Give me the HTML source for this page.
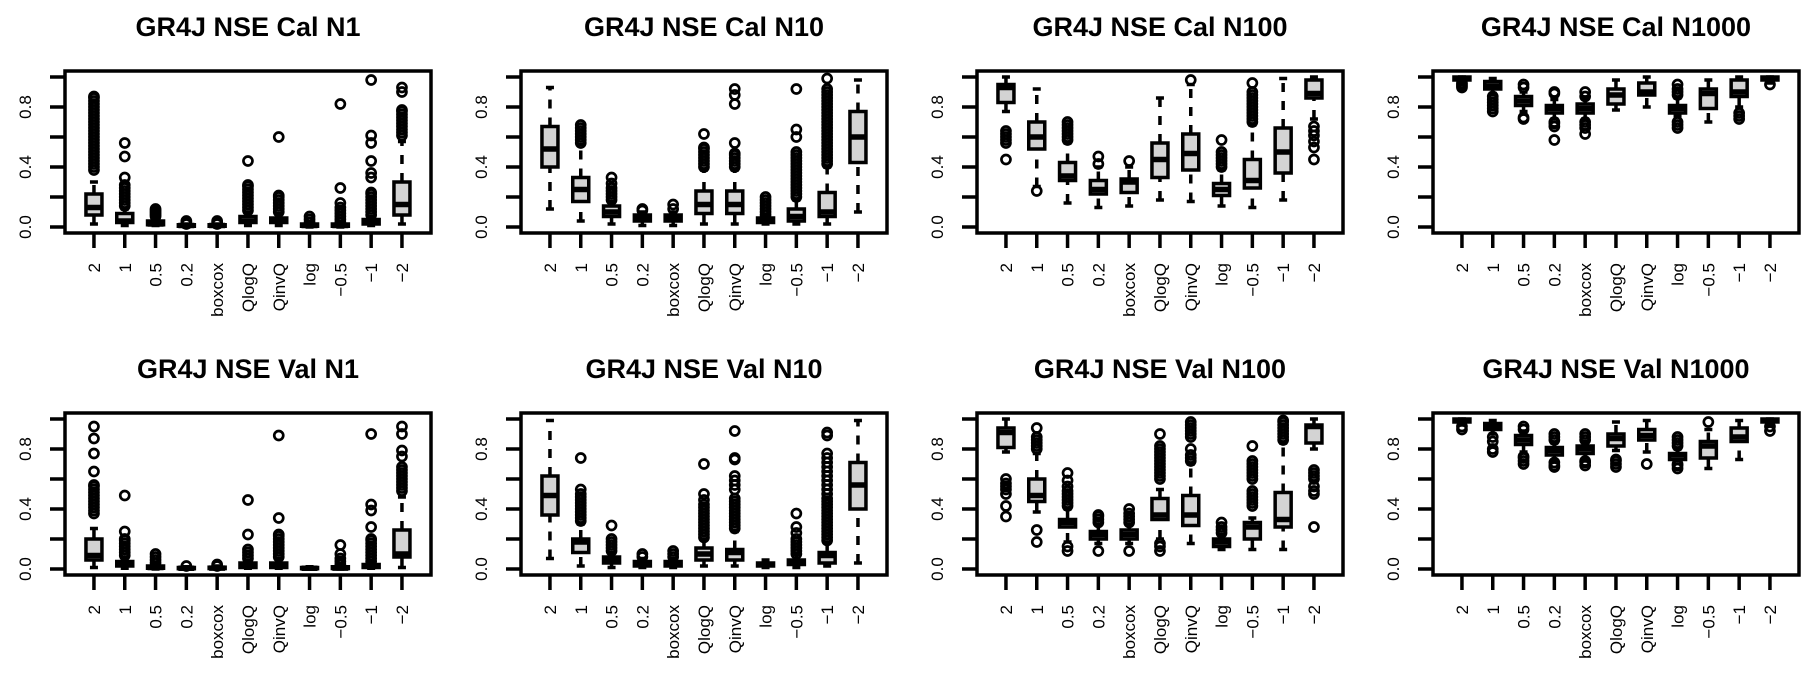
<!DOCTYPE html>
<html><head><meta charset="utf-8"><style>
html,body{margin:0;padding:0;background:#fff}
svg{display:block}
text{font-family:"Liberation Sans",Arial,sans-serif;fill:#000}
</style></head><body>
<svg id="chart" width="1815" height="679" viewBox="0 0 1815 679" xmlns="http://www.w3.org/2000/svg"></svg>
<script>
const categories = ["2","1","0.5","0.2","boxcox","QlogQ","QinvQ","log","\u22120.5","\u22121","\u22122"];
const yTicks = [0,0.2,0.4,0.6,0.8,1.0];
const yTickLabels = ["0.0","","0.4","","0.8",""];
const titles = ["GR4J NSE Cal N1","GR4J NSE Cal N10","GR4J NSE Cal N100","GR4J NSE Cal N1000","GR4J NSE Val N1","GR4J NSE Val N10","GR4J NSE Val N100","GR4J NSE Val N1000"];
// each box: [lowerWhisker, q1, median, q3, upperWhisker]
const statsCalN1 = [[.02,.08,.13,.22,.30],[.01,.03,.04,.09,.12],[.01,.015,.02,.04,.06],[0,.005,.01,.015,.02],[0,.005,.01,.015,.02],[.01,.03,.04,.07,.10],[.01,.03,.04,.06,.09],[0,.005,.01,.02,.03],[0,.005,.01,.02,.03],[.01,.02,.03,.05,.07],[.02,.08,.15,.30,.57]];
const outCalN1 = [[.38,.40,.42,.44,.46,.48,.50,.52,.54,.56,.58,.60,.62,.64,.66,.68,.70,.72,.74,.76,.78,.80,.82,.84,.86,.87],[.14,.16,.18,.20,.22,.24,.26,.28,.33,.47,.56],[.07,.08,.09,.10,.11,.12],[.02,.03,.04],[.02,.03,.04],[.11,.13,.15,.17,.19,.21,.23,.25,.27,.28,.44],[.10,.12,.14,.16,.18,.20,.21,.60],[.03,.05,.07],[.03,.05,.07,.09,.11,.13,.16,.26,.82],[.08,.10,.12,.14,.16,.18,.20,.22,.23,.33,.36,.44,.56,.61,.98],[.61,.63,.65,.67,.69,.71,.73,.75,.77,.78,.90,.93]];
const statsCalN10 = [[.12,.40,.52,.67,.93],[.04,.17,.25,.33,.55],[.02,.07,.10,.14,.17],[.01,.04,.06,.08,.10],[.01,.04,.06,.08,.10],[.02,.09,.15,.24,.38],[.02,.09,.15,.24,.38],[.02,.03,.05,.06,.08],[.02,.04,.07,.12,.18],[.02,.07,.10,.23,.40],[.10,.43,.60,.77,.98]];
const outCalN10 = [[],[.56,.58,.60,.62,.64,.66,.68],[.18,.20,.22,.24,.26,.29,.33],[.11,.12],[.12,.15],[.40,.42,.44,.46,.48,.50,.52,.53,.62],[.40,.42,.44,.46,.48,.49,.56,.82,.88,.92],[.08,.10,.12,.14,.16,.18,.20],[.20,.22,.24,.26,.28,.30,.32,.34,.36,.38,.40,.42,.44,.46,.48,.50,.60,.65,.92],[.42,.44,.46,.48,.50,.52,.54,.56,.58,.60,.62,.64,.66,.68,.70,.72,.74,.76,.78,.80,.82,.84,.86,.88,.90,.92,.99],[]];
const statsCalN100 = [[.77,.83,.93,.95,1.0],[.27,.52,.60,.70,.92],[.16,.31,.34,.43,.56],[.13,.22,.25,.31,.40],[.14,.23,.30,.32,.40],[.18,.33,.45,.56,.86],[.17,.38,.49,.62,.95],[.14,.21,.25,.29,.38],[.13,.26,.31,.45,.68],[.18,.36,.50,.66,.99],[.72,.86,.89,.98,1.0]];
const outCalN100 = [[.45,.56,.58,.60,.62,.64],[.24],[.58,.60,.62,.64,.66,.68,.70],[.42,.47],[.44],[],[.98],[.40,.42,.44,.46,.48,.50,.58],[.70,.72,.74,.76,.78,.80,.82,.84,.86,.88,.90,.96],[],[.45,.53,.57,.61,.64,.67]];
const statsCalN1000 = [[.95,.98,.99,1.0,1.0],[.89,.92,.94,.97,.99],[.77,.81,.84,.87,.90],[.72,.76,.79,.81,.85],[.72,.76,.79,.82,.86],[.78,.82,.88,.92,.98],[.80,.88,.90,.96,1.0],[.74,.76,.79,.81,.86],[.70,.79,.89,.92,.98],[.80,.87,.90,.98,1.0],[.96,.98,.99,1.0,1.0]];
const outCalN1000 = [[.93,.94,.95,.96],[.77,.79,.81,.83,.85,.87],[.72,.73,.93,.95],[.58,.67,.69,.70,.89,.90],[.62,.66,.68,.70,.87,.90],[],[],[.66,.68,.70,.88,.90,.92,.95],[],[.72,.74,.76],[.95]];
const statsValN1 = [[.01,.06,.09,.20,.27],[.005,.02,.03,.05,.08],[0,.005,.01,.02,.04],[0,.002,.005,.01,.015],[0,.003,.006,.012,.02],[.005,.01,.02,.04,.06],[.005,.01,.02,.04,.07],[0,.002,.005,.01,.015],[0,.003,.006,.015,.03],[.005,.01,.02,.03,.05],[.01,.08,.10,.26,.48]];
const outValN1 = [[.37,.39,.41,.43,.45,.47,.49,.51,.53,.55,.56,.65,.77,.87,.95],[.09,.11,.13,.15,.17,.19,.20,.25,.49],[.04,.06,.08,.10],[.02],[.02,.03],[.07,.09,.11,.13,.23,.46],[.08,.10,.12,.14,.16,.18,.20,.22,.23,.34,.89],[],[.03,.05,.07,.10,.16],[.05,.07,.09,.11,.13,.15,.17,.19,.20,.28,.39,.43,.90],[.52,.54,.56,.58,.60,.62,.64,.66,.68,.75,.79,.90,.95]];
const statsValN10 = [[.07,.36,.49,.62,.99],[.02,.11,.18,.20,.30],[.01,.04,.06,.08,.11],[.01,.02,.03,.05,.07],[.01,.02,.03,.05,.07],[.02,.06,.10,.14,.20],[.02,.06,.11,.13,.25],[.01,.02,.03,.04,.06],[.01,.03,.04,.06,.10],[.02,.04,.09,.11,.18],[.04,.40,.56,.71,.99]];
const outValN10 = [[],[.32,.34,.36,.38,.40,.42,.44,.46,.48,.50,.53,.74],[.12,.14,.16,.18,.20,.29],[.08,.10],[.08,.10,.12],[.21,.23,.25,.27,.29,.31,.33,.35,.37,.39,.41,.43,.46,.50,.70],[.27,.29,.31,.33,.35,.37,.39,.41,.43,.45,.47,.53,.56,.59,.62,.73,.74,.92],[],[.10,.12,.14,.16,.18,.20,.24,.28,.37],[.19,.21,.23,.25,.27,.29,.31,.33,.35,.37,.39,.41,.43,.45,.47,.50,.53,.56,.59,.62,.65,.68,.71,.74,.77,.89,.91],[]];
const statsValN100 = [[.78,.81,.91,.94,1.0],[.38,.45,.49,.60,.77],[.18,.28,.31,.33,.40],[.17,.20,.23,.25,.30],[.17,.20,.23,.26,.30],[.20,.33,.36,.47,.53],[.17,.29,.36,.49,.70],[.13,.15,.18,.20,.23],[.13,.20,.28,.31,.34],[.13,.28,.33,.51,.84],[.80,.84,.95,.96,1.0]];
const outValN100 = [[.35,.42,.50,.53,.55,.57,.60],[.18,.26,.80,.82,.84,.86,.88,.94],[.12,.15,.42,.44,.46,.48,.50,.52,.55,.59,.64],[.12,.31,.33,.35,.36],[.12,.31,.33,.35,.37,.40],[.12,.15,.17,.60,.62,.64,.66,.68,.70,.72,.74,.76,.78,.80,.82,.90],[.72,.74,.76,.80,.88,.90,.92,.94,.96,.98],[.24,.26,.28,.31],[.42,.44,.46,.48,.50,.52,.60,.62,.64,.66,.68,.70,.72,.82],[.86,.88,.90,.92,.94,.96,.98,.99],[.28,.50,.52,.55,.60,.62,.64,.66]];
const statsValN1000 = [[.96,.98,.99,1.0,1.0],[.90,.93,.95,.97,.99],[.78,.83,.86,.89,.92],[.72,.76,.79,.81,.84],[.72,.77,.80,.82,.85],[.79,.82,.87,.90,.98],[.78,.86,.89,.93,.99],[.72,.73,.76,.77,.80],[.67,.74,.82,.85,.93],[.73,.85,.88,.94,.99],[.96,.98,.99,1.0,1.0]];
const outValN1000 = [[.93,.95],[.78,.80,.85,.88],[.70,.72,.74,.75,.93,.95],[.68,.69,.71,.86,.88,.90],[.69,.71,.72,.86,.88,.90],[.68,.70,.72,.73],[.70],[.67,.69,.70,.82,.84,.86,.88],[.98],[],[.92,.95]];

const panelStats = [statsCalN1,statsCalN10,statsCalN100,statsCalN1000,statsValN1,statsValN10,statsValN100,statsValN1000];
const panelOut = [outCalN1,outCalN10,outCalN100,outCalN1000,outValN1,outValN10,outValN100,outValN1000];

const svg = document.getElementById('chart');
const NS = 'http://www.w3.org/2000/svg';
function mk(tag, attrs, parent){const e=document.createElementNS(NS,tag);for(const k in attrs)e.setAttribute(k,attrs[k]);parent.appendChild(e);return e;}

const BOXW=366, BOXH=162, COLSTEP=456, ROWSTEP=342, LEFT0=65, TOP0=71;
for(let p=0;p<8;p++){
  const col=p%4,row=Math.floor(p/4);
  const L=LEFT0+col*COLSTEP, T=TOP0+row*ROWSTEP, B=T+BOXH;
  const yS=v=>B-6-v*150;
  const xS=i=>L+(i+1-0.06)*30.8;
  const g=mk('g',{},svg);
  
  
  const t=mk('text',{x:L+BOXW/2,y:T-35,'text-anchor':'middle','font-size':'27','font-weight':'bold'},g);
  t.textContent=titles[p];
  
  
  yTicks.forEach((v,k)=>{
    const tk=mk('line',{x1:L-15,x2:L,y1:yS(v),y2:yS(v),stroke:'#000','stroke-width':3.5},g);
    
    
    if(yTickLabels[k]){
      const tl=mk('text',{x:0,y:0,'text-anchor':'middle','font-size':'17',transform:`translate(${L-34},${yS(v)}) rotate(-90)`},g);
      tl.textContent=yTickLabels[k];
      
      
    }
  });
  categories.forEach((c,i)=>{
    const x=xS(i);
    const tk=mk('line',{x1:x,x2:x,y1:B,y2:B+15,stroke:'#000','stroke-width':3.5},g);
    
    
    const tl=mk('text',{x:0,y:0,'text-anchor':'end','font-size':'17',transform:`translate(${x+6},${B+30}) rotate(-90)`},g);
    tl.textContent=c;
    
    
  });
  panelStats[p].forEach((s,i)=>{
    const x=xS(i), hw=8;
    const bg=mk('g',{},g);
    
    
    mk('line',{x1:x,x2:x,y1:yS(s[0]),y2:yS(s[1]),stroke:'#000','stroke-width':3.5,'stroke-dasharray':'9,9'},bg);
    mk('line',{x1:x,x2:x,y1:yS(s[3]),y2:yS(s[4]),stroke:'#000','stroke-width':3.5,'stroke-dasharray':'9,9'},bg);
    mk('line',{x1:x-4,x2:x+4,y1:yS(s[0]),y2:yS(s[0]),stroke:'#000','stroke-width':3.5},bg);
    mk('line',{x1:x-4,x2:x+4,y1:yS(s[4]),y2:yS(s[4]),stroke:'#000','stroke-width':3.5},bg);
    mk('rect',{x:x-hw,y:yS(s[3]),width:2*hw,height:Math.max(0.5,yS(s[1])-yS(s[3])),fill:'#d3d3d3',stroke:'#000','stroke-width':3.5},bg);
    mk('line',{x1:x-hw,x2:x+hw,y1:yS(s[2]),y2:yS(s[2]),stroke:'#000','stroke-width':5.5},bg);
    panelOut[p][i].forEach(v=>{
      const c=mk('circle',{cx:x,cy:yS(v),r:4.5,fill:'none',stroke:'#000','stroke-width':2.7},bg);
      
      
    });
  });
  const fr=mk('rect',{x:L,y:T,width:BOXW,height:BOXH,fill:'none',stroke:'#000','stroke-width':3.5},g);
  
  
}
</script>
</body></html>
